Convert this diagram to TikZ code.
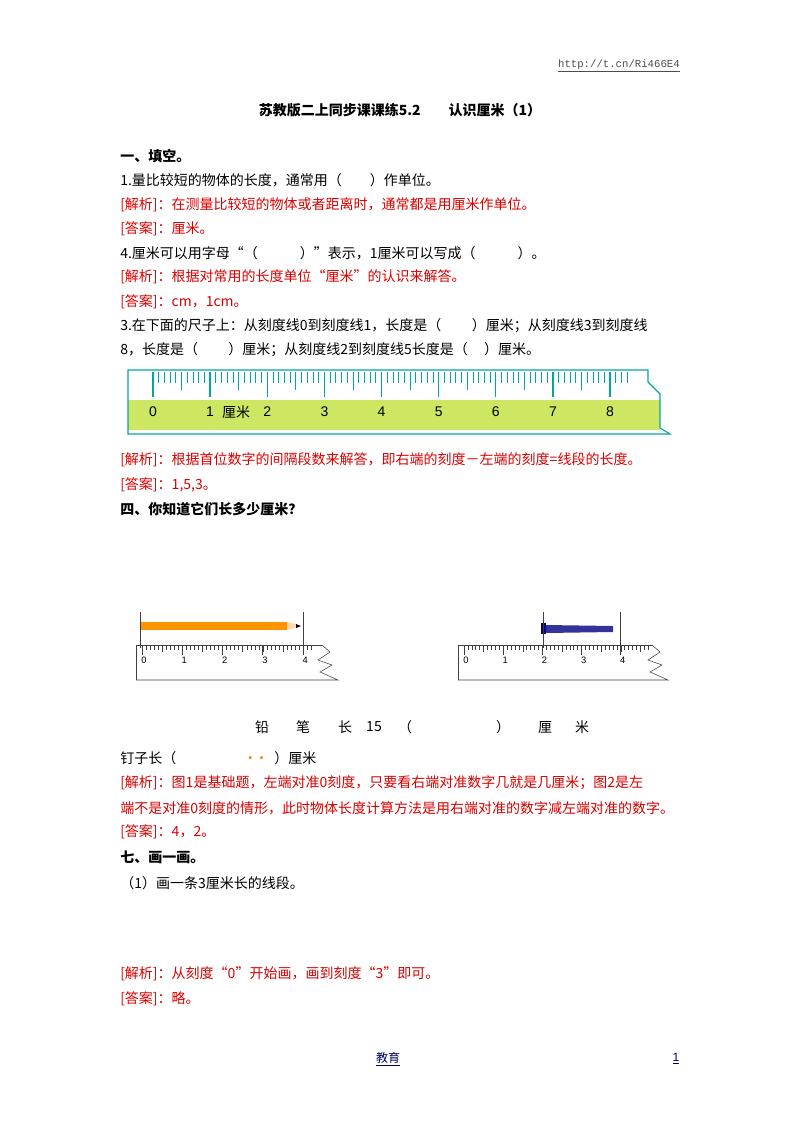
\documentclass[tikz,border=0pt]{standalone}
\usepackage{fontspec}
\setmainfont{Noto Sans CJK SC}
\newfontfamily\lat{Liberation Sans}
\newfontfamily\mono{Liberation Mono}
\begin{document}
\begin{tikzpicture}[x=0.75pt,y=-0.75pt,
  txt/.style={anchor=west,inner sep=0pt,font=\fontsize{10.5}{12}\selectfont},
  red/.style={txt,text=red!85!black},
  hd/.style={txt,font=\fontsize{10.5}{12}\selectfont\bfseries},
  tk/.style={draw=teal!70!cyan,line width=0.8pt},
  sk/.style={draw=black!75,line width=0.4pt}]
\useasboundingbox (0,0) rectangle (800,1132);
\fill[white] (0,0) rectangle (800,1132);
\node[anchor=east,inner sep=0pt,font=\mono\fontsize{8}{9}\selectfont,text=black!70] (url) at (680,66) {\underline{http://t.cn/Ri466E4}};
\node[inner sep=0pt,font=\fontsize{10.5}{12}\selectfont\bfseries] (title) at (400,110) {苏教版二上同步课课练5.2\quad\quad 认识厘米（1）};
\node[hd] (h1) at (120,156) {一、填空。};
\node[txt] (l1) at (120,180) {1.量比较短的物体的长度，通常用（\quad\quad）作单位。};
\node[red] (l2) at (120,205) {[解析]：在测量比较短的物体或者距离时，通常都是用厘米作单位。};
\node[red] (l3) at (120,229) {[答案]：厘米。};
\node[txt] (l4) at (120,253) {4.厘米可以用字母“（\quad\quad\quad）”表示，1厘米可以写成（\quad\quad\quad）。};
\node[red] (l5) at (120,277) {[解析]：根据对常用的长度单位“厘米”的认识来解答。};
\node[red] (l6) at (120,302) {[答案]：cm，1cm。};
\node[txt] (l7) at (120,326) {3.在下面的尺子上：从刻度线0到刻度线1，长度是（\quad\quad\,）厘米；从刻度线3到刻度线};
\node[txt] (l8) at (120,350) {8，长度是（\quad\quad\,）厘米；从刻度线2到刻度线5长度是（\quad\,）厘米。};
% big ruler
\fill[yellow!70!green!65!white] (128,400) rectangle (660,430);
\draw[tk] (128,370) -- (648,370) -- (648,382) -- (660,394) -- (660,428) -- (670,434) -- (128,434) -- cycle;
\foreach \i in {0,...,83}{\draw[tk,line width=0.6pt] (153+\i*5.713,372) -- ++(0,11);}
\foreach \i in {0,...,16}{\draw[tk,line width=0.6pt] (153+\i*28.565,372) -- ++(0,18);}
\foreach \n in {0,...,8}{\draw[tk,line width=1pt] (153+\n*57.13,372) -- ++(0,25);
  \node[inner sep=0pt,font=\lat\fontsize{10.5}{12}\selectfont] (r\n) at (153+\n*57.13,412) {\n};}
\node[inner sep=0pt,font=\fontsize{10.5}{12}\selectfont] (lm) at (236,412) {厘米};
\node[red] (l9) at (120,460) {[解析]：根据首位数字的间隔段数来解答，即右端的刻度－左端的刻度=线段的长度。};
\node[red] (l10) at (120,485) {[答案]：1,5,3。};
\node[hd] (h4) at (120,509) {四、你知道它们长多少厘米？};
% small ruler A
\fill[orange!85!yellow] (140,622) rectangle (287,630);
\fill[orange!30] (287,622) -- (296,624) -- (296,628) -- (287,630) -- cycle;
\fill[black] (296,624) -- (301,626) -- (296,628) -- cycle;
\draw[sk] (140,612) -- (140,648);
\draw[sk] (303,612) -- (303,652);
\draw[sk] (136,680) -- (136,645) -- (322,645);
\draw[sk] (136,680) -- (338,680) -- (320,672) -- (332,665) -- (318,660) -- (330,652) -- (322,645);
\foreach \i in {0,...,42}{\draw[sk] (142+\i*4.03,645) -- ++(0,5);}
\foreach \i in {0,...,8}{\draw[sk] (142+\i*20.15,645) -- ++(0,7);}
\foreach \n in {0,...,4}{\draw[sk,line width=0.7pt] (142+\n*40.3,645) -- ++(0,10);
  \node[inner sep=0pt,font=\lat\fontsize{7}{8}\selectfont] (a\n) at (144+\n*40.3,660) {\n};}
% small ruler B
\fill[blue!45!black] (541,623) rectangle (546,634);
\fill[blue!50!black!80] (546,625) -- (613,626) -- (613,632) -- (546,633) -- cycle;
\draw[sk] (543,612) -- (543,648);
\draw[sk] (620,612) -- (620,648);
\draw[sk] (458,680) -- (458,645) -- (652,645);
\draw[sk] (458,680) -- (668,680) -- (650,672) -- (662,665) -- (648,660) -- (660,652) -- (652,645);
\foreach \i in {0,...,47}{\draw[sk] (464+\i*3.92,645) -- ++(0,5);}
\foreach \i in {0,...,9}{\draw[sk] (464+\i*19.6,645) -- ++(0,7);}
\foreach \n in {0,...,4}{\draw[sk,line width=0.7pt] (464+\n*39.2,645) -- ++(0,10);
  \node[inner sep=0pt,font=\lat\fontsize{7}{8}\selectfont] (b\n) at (466+\n*39.2,660) {\n};}
% answer line
\foreach \t/\x [count=\k] in {铅/262,笔/303,长/345,15/374,（/405,）/503,厘/545,米/582}{\node[inner sep=0pt,font=\fontsize{10.5}{12}\selectfont] (w\k) at (\x,727) {\t};}
\node[txt] (l11a) at (120,758) {钉子长（};
\node[inner sep=0pt,font=\bfseries\fontsize{10.5}{12}\selectfont,text=orange] (dots) at (256,758) {.\ \ .};
\node[txt] (l11b) at (274,758) {）厘米};
\node[red] (l12) at (120,783) {[解析]：图1是基础题，左端对准0刻度，只要看右端对准数字几就是几厘米；图2是左};
\node[red] (l13) at (120,808) {端不是对准0刻度的情形，此时物体长度计算方法是用右端对准的数字减左端对准的数字。};
\node[red] (l14) at (120,832) {[答案]：4，2。};
\node[hd] (h7) at (120,857) {七、画一画。};
\node[txt] (l15) at (120,883) {（1）画一条3厘米长的线段。};
\node[red] (l16) at (120,974) {[解析]：从刻度“0”开始画，画到刻度“3”即可。};
\node[red] (l17) at (120,999) {[答案]：略。};
\node[inner sep=0pt,font=\fontsize{9}{10}\selectfont,text=blue!40!black] (ft) at (388,1059) {\underline{教育}};
\node[inner sep=0pt,font=\lat\fontsize{9}{10}\selectfont,text=blue!40!black] (pg) at (676,1059) {\underline{1}};
\end{tikzpicture}
\end{document}
